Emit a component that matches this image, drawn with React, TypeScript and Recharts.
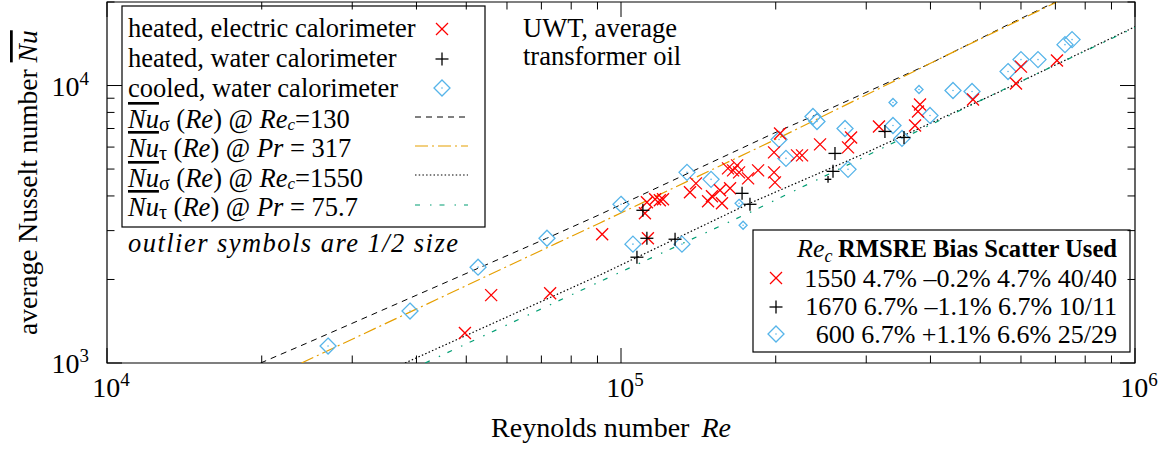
import React from 'react';
import { ScatterChart, Scatter, XAxis, YAxis, ReferenceArea } from 'recharts';

const FONT = '"Liberation Serif", "Times New Roman", serif';
const RED = '#ff0000';
const SKY = '#56b4e9';
const ORANGE = '#e69f00';
const GREEN = '#009e73';

// plot box in page pixels (chart margins below produce it)
const PLOT = { left: 107, right: 1135, top: 2, bottom: 363 };

// heated, electric calorimeter
const electricRe = [49700, 55900, 72800, 91900, 112800, 112300, 111300, 116500, 120700, 136200,
  139900, 147700, 157200, 155800, 163000, 161500, 168200, 169700, 176700, 184800,
  199300, 198500, 198500, 203900, 220000, 225000, 243900, 280300, 276500, 317600,
  373300, 381700, 378300, 484000, 586800, 600000, 705000, 165200, 150300, 119000];
const electricNu = [1282, 1756, 1785, 2911, 2815, 3795, 3464, 3890, 3890, 4123,
  4441, 3826, 3763, 4192, 4261, 5028, 5155, 4865, 4629, 4946,
  4478, 4865, 5741, 6720, 5601, 5601, 6135, 6500, 5984, 7119,
  7178, 8545, 8063, 8905, 10170, 11700, 12300, 4946, 3988, 3860];

// heated, water calorimeter
const waterRe = [110300, 112300, 107400, 127400, 172000, 178200, 260800, 258500, 326200, 355300];
const waterNu = [3551, 2815, 2406, 2793, 4088, 3732, 5693, 4905, 6832, 6500];
const waterOutRe = [252800];
const waterOutNu = [4591];

// cooled, water calorimeter
const cooledRe = [26920, 38860, 52710, 71780, 100000, 105500, 131400, 134400, 149700, 203000,
  209400, 236300, 240600, 272800, 276500, 338200, 352100, 399200, 442500, 481900,
  566200, 600000, 647600, 730800, 754300];
const cooledNu = [1151, 1539, 2215, 2815, 3732, 2681, 2681, 4865, 4591, 6393,
  5463, 7736, 7421, 7002, 4987, 7178, 6447, 7801, 9594, 9515,
  11230, 12400, 12400, 14040, 14640];
const cooledOutRe = [169700, 172800, 338200, 380000];
const cooledOutNu = [3763, 3136, 8686, 9674];

// model curves
const sigma130Re = [19900, 24500, 71800, 90200, 197700, 255300, 399000, 571500, 700000];
const sigma130Nu = [1000, 1180, 2818, 3404, 6714, 8260, 11990, 16710, 20000];
const tau317Re = [23900, 75000, 91000, 203700, 457100, 704700];
const tau317Nu = [1000, 2704, 3197, 6501, 13580, 20000];
const sigma1550Re = [38000, 91000, 178200, 291700, 545800, 1000000];
const sigma1550Nu = [1000, 2075, 3767, 5598, 9506, 16290];
const tau757Re = [41600, 89700, 178200, 287700, 539500, 1000000];
const tau757Nu = [1000, 1941, 3491, 5370, 9441, 16180];

const xTicks = [1e4, 2e4, 3e4, 4e4, 5e4, 6e4, 7e4, 8e4, 9e4,
  1e5, 2e5, 3e5, 4e5, 5e5, 6e5, 7e5, 8e5, 9e5, 1e6];
const yTicks = [1e3, 2e3, 3e3, 4e3, 5e3, 6e3, 7e3, 8e3, 9e3, 1e4, 2e4];

const toPoints = (re: number[], nu: number[]) => re.map((r, i) => ({ re: r, nu: nu[i] }));

const decade = (v: number) => {
  const e = Math.log10(v);
  return Math.abs(e - Math.round(e)) < 1e-9 ? Math.round(e) : null;
};

const XTick = (props: any) => {
  const { x, payload } = props;
  const exp = decade(payload.value);
  const len = exp !== null ? 15 : 7.5;
  return (
    <g>
      <line x1={x} x2={x} y1={PLOT.bottom} y2={PLOT.bottom - len} stroke="#000" strokeWidth={1} />
      <line x1={x} x2={x} y1={PLOT.top} y2={PLOT.top + len} stroke="#000" strokeWidth={1} />
      {exp !== null && (
        <text x={x + 4} y={397} textAnchor="middle" fontFamily={FONT} fontSize={28} fill="#000">
          <tspan>10</tspan>
          <tspan dy={-11} fontSize={19}>{exp}</tspan>
        </text>
      )}
    </g>
  );
};

const YTick = (props: any) => {
  const { y, payload } = props;
  const exp = decade(payload.value);
  const len = exp !== null ? 15 : 7.5;
  return (
    <g>
      <line x1={PLOT.left} x2={PLOT.left + len} y1={y} y2={y} stroke="#000" strokeWidth={1} />
      <line x1={PLOT.right} x2={PLOT.right - len} y1={y} y2={y} stroke="#000" strokeWidth={1} />
      {exp !== null && (
        <text x={89} y={y + 10} textAnchor="end" fontFamily={FONT} fontSize={28} fill="#000">
          <tspan>10</tspan>
          <tspan dy={-11} fontSize={19}>{exp}</tspan>
        </text>
      )}
    </g>
  );
};

const crossShape = (h: number) => (p: any) => (
  <g stroke={RED} strokeWidth={1.3}>
    <line x1={p.cx - h} y1={p.cy - h} x2={p.cx + h} y2={p.cy + h} />
    <line x1={p.cx - h} y1={p.cy + h} x2={p.cx + h} y2={p.cy - h} />
  </g>
);

const plusShape = (h: number) => (p: any) => (
  <g stroke="#000" strokeWidth={1.3}>
    <line x1={p.cx - h} y1={p.cy} x2={p.cx + h} y2={p.cy} />
    <line x1={p.cx} y1={p.cy - h} x2={p.cx} y2={p.cy + h} />
  </g>
);

const diamondShape = (h: number) => (p: any) => (
  <g>
    <polygon
      points={`${p.cx},${p.cy - h} ${p.cx + h},${p.cy} ${p.cx},${p.cy + h} ${p.cx - h},${p.cy}`}
      fill="none" stroke={SKY} strokeWidth={1.3}
    />
    <circle cx={p.cx} cy={p.cy} r={0.8} fill={SKY} />
  </g>
);

const noShape = () => <g />;

const DASH_130 = '6 5';
const DASH_317 = '13 4 2 4';
const DASH_1550 = '1.5 2.2';
const DASH_757 = '5 10 1.5 8';

const Nu = () => (
  <tspan fontStyle="italic" textDecoration="overline">Nu</tspan>
);

const App: React.FC = () => {
  return (
    <div style={{ position: 'absolute', left: 0, top: 0, width: 1162, height: 450, background: '#fff' }}>
      <div style={{ position: 'absolute', left: 0, top: 0 }}>
        <ScatterChart width={1162} height={450} margin={{ top: 2, right: 27, bottom: 0, left: 0 }}>
          <XAxis
            type="number" dataKey="re" scale="log" domain={[1e4, 1e6]} allowDataOverflow
            ticks={xTicks} interval={0} tickLine={false} axisLine={false} height={87} tick={XTick}
          />
          <YAxis
            type="number" dataKey="nu" scale="log" domain={[1e3, 2e4]} allowDataOverflow
            ticks={yTicks} interval={0} tickLine={false} axisLine={false} width={107} tick={YTick}
          />
          <ReferenceArea x1={1e4} x2={1e6} y1={1e3} y2={2e4} fill="none" stroke="#000" strokeWidth={1.2} />
          <Scatter data={toPoints(sigma130Re, sigma130Nu)} fill="#000" shape={noShape} isAnimationActive={false}
            line={{ stroke: '#000', strokeWidth: 1, strokeDasharray: DASH_130 }} />
          <Scatter data={toPoints(tau317Re, tau317Nu)} fill={ORANGE} shape={noShape} isAnimationActive={false}
            line={{ stroke: ORANGE, strokeWidth: 1.2, strokeDasharray: DASH_317 }} />
          <Scatter data={toPoints(sigma1550Re, sigma1550Nu)} fill="#000" shape={noShape} isAnimationActive={false}
            line={{ stroke: '#000', strokeWidth: 1.2, strokeDasharray: DASH_1550 }} />
          <Scatter data={toPoints(tau757Re, tau757Nu)} fill={GREEN} shape={noShape} isAnimationActive={false}
            line={{ stroke: GREEN, strokeWidth: 1.2, strokeDasharray: DASH_757 }} />
          <Scatter data={toPoints(cooledRe, cooledNu)} shape={diamondShape(8)} isAnimationActive={false} />
          <Scatter data={toPoints(cooledOutRe, cooledOutNu)} shape={diamondShape(4)} isAnimationActive={false} />
          <Scatter data={toPoints(electricRe, electricNu)} shape={crossShape(6)} isAnimationActive={false} />
          <Scatter data={toPoints(waterRe, waterNu)} shape={plusShape(6.5)} isAnimationActive={false} />
          <Scatter data={toPoints(waterOutRe, waterOutNu)} shape={plusShape(3.3)} isAnimationActive={false} />
        </ScatterChart>
      </div>

      <svg width={1162} height={450} style={{ position: 'absolute', left: 0, top: 0, pointerEvents: 'none' }}
        fontFamily={FONT} fontSize={26.5} fill="#000">
        {/* axis titles */}
        <text transform="translate(37, 335) rotate(-90)" fontSize={27.5}>
          <tspan>average Nusselt number  </tspan>
          <Nu />
        </text>
        <text x={611} y={437} textAnchor="middle" fontSize={28}>
          <tspan>Reynolds number</tspan>
          <tspan dx={12} fontStyle="italic">Re</tspan>
        </text>

        {/* key */}
        <rect x={122} y={6} width={363} height={221} fill="none" stroke="#000" strokeWidth={1.2} />
        <text x={128} y={37}>heated, electric calorimeter</text>
        <text x={128} y={67}>heated, water calorimeter</text>
        <text x={128} y={97}>cooled, water calorimeter</text>
        <text x={128} y={128}>
          <Nu /><tspan dy={3} fontSize={20}>σ</tspan><tspan dy={-3}> (</tspan><tspan fontStyle="italic">Re</tspan>
          <tspan>) @ </tspan><tspan fontStyle="italic">Re</tspan>
          <tspan dy={1.5} fontSize={17} fontStyle="italic">c</tspan><tspan dy={-1.5}>=130</tspan>
        </text>
        <text x={128} y={157}>
          <Nu /><tspan dy={3} fontSize={20}>τ</tspan><tspan dy={-3}> (</tspan><tspan fontStyle="italic">Re</tspan>
          <tspan>) @ </tspan><tspan fontStyle="italic">Pr</tspan><tspan> = 317</tspan>
        </text>
        <text x={128} y={187}>
          <Nu /><tspan dy={3} fontSize={20}>σ</tspan><tspan dy={-3}> (</tspan><tspan fontStyle="italic">Re</tspan>
          <tspan>) @ </tspan><tspan fontStyle="italic">Re</tspan>
          <tspan dy={1.5} fontSize={17} fontStyle="italic">c</tspan><tspan dy={-1.5}>=1550</tspan>
        </text>
        <text x={128} y={216}>
          <Nu /><tspan dy={3} fontSize={20}>τ</tspan><tspan dy={-3}> (</tspan><tspan fontStyle="italic">Re</tspan>
          <tspan>) @ </tspan><tspan fontStyle="italic">Pr</tspan><tspan> = 75.7</tspan>
        </text>
        {crossShape(6)({ cx: 442, cy: 29 })}
        {plusShape(6.5)({ cx: 442, cy: 59 })}
        {diamondShape(8)({ cx: 442, cy: 88 })}
        <line x1={415} x2={468} y1={117} y2={117} stroke="#000" strokeWidth={1} strokeDasharray={DASH_130} />
        <line x1={415} x2={468} y1={146} y2={146} stroke={ORANGE} strokeWidth={1.2} strokeDasharray={DASH_317} />
        <line x1={415} x2={468} y1={175} y2={175} stroke="#000" strokeWidth={1.2} strokeDasharray={DASH_1550} />
        <line x1={415} x2={468} y1={205} y2={205} stroke={GREEN} strokeWidth={1.2} strokeDasharray={DASH_757} />

        <text x={128} y={252} fontStyle="italic" textLength={330} lengthAdjust="spacing">
          outlier symbols are 1/2 size
        </text>

        <text x={523} y={37}>UWT, average</text>
        <text x={523} y={65}>transformer oil</text>

        {/* fit statistics */}
        <rect x={753} y={230} width={377} height={122} fill="none" stroke="#000" strokeWidth={1.2} />
        <text x={797} y={257} fontSize={26}>
          <tspan fontStyle="italic">Re</tspan>
          <tspan dy={5} fontSize={18} fontStyle="italic">c</tspan>
          <tspan dy={-5} x={838} fontWeight="bold" textLength={279} lengthAdjust="spacingAndGlyphs">RMSRE Bias Scatter Used</tspan>
        </text>
        <text x={1117} y={287} textAnchor="end" fontSize={26}>1550 4.7% {'\u2013'}0.2% 4.7% 40/40</text>
        <text x={1117} y={315} textAnchor="end" fontSize={26}>1670 6.7% {'\u2013'}1.1% 6.7% 10/11</text>
        <text x={1117} y={343} textAnchor="end" fontSize={26}>600 6.7% +1.1% 6.6% 25/29</text>
        {crossShape(6)({ cx: 776, cy: 278 })}
        {plusShape(6.5)({ cx: 776, cy: 307 })}
        {diamondShape(8)({ cx: 776, cy: 334 })}
      </svg>
    </div>
  );
};

export default App;
